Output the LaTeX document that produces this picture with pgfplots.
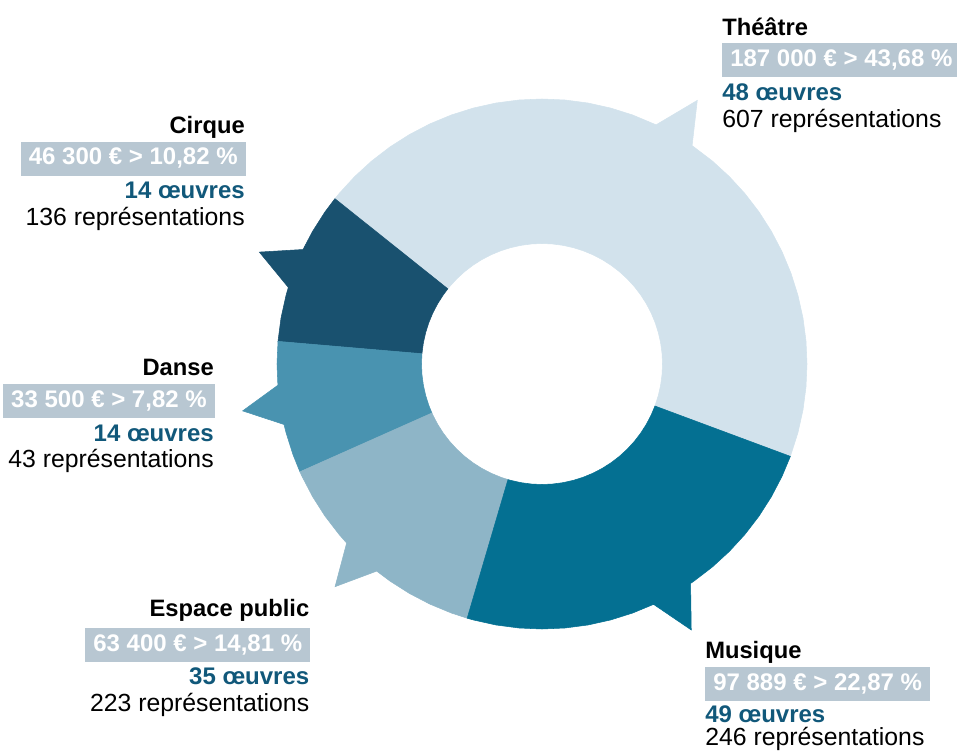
\documentclass[border=0pt]{standalone}
\usepackage{pgfplots}
\pgfplotsset{compat=1.18}
\usepackage{fontspec}
\setmainfont{Liberation Sans}

\definecolor{theatre}{HTML}{D2E2EC}
\definecolor{cirque}{HTML}{19516F}
\definecolor{danse}{HTML}{4993B0}
\definecolor{espace}{HTML}{8EB5C7}
\definecolor{musique}{HTML}{047092}
\definecolor{boxc}{HTML}{B8C7D2}
\definecolor{oeuc}{HTML}{11587A}

\tikzset{
  lbl/.style={inner sep=0pt, font=\fontsize{18.6}{20}\selectfont},
  ttl/.style={lbl, font=\fontsize{17.8}{20}\selectfont\bfseries},
  oeu/.style={lbl, text=oeuc, font=\fontsize{18}{20}\selectfont\bfseries},
  pct/.style={fill=boxc, text=white, font=\fontsize{18}{20}\selectfont\bfseries,
    inner xsep=6pt, inner ysep=0pt, text height=17.6pt, text depth=7.9pt},
}

\begin{document}
\begin{tikzpicture}
\begin{axis}[
    hide axis,
    scale only axis,
    width=717.75pt, height=563.25pt,
    xmin=-542, xmax=415, ymin=-387, ymax=364,
    clip=false,
    every axis plot/.append style={data cs=polar, line width=0.4pt},
  ]
% Théâtre
\addplot[fill=theatre, draw=theatre] coordinates {
  (-20.4,265) (-15,265) (-10,265) (-5,265) (0,265) (5,265) (10,265) (15,265)
  (20,265) (25,265) (30,265) (35,265) (40,265) (45,265) (50,265) (55.5,265)
  (59.5,306) (64.5,265) (70,265) (75,265) (80,265) (85,265) (90,265) (95,265)
  (100,265) (105,265) (110,265) (115,265) (120,265) (125,265) (130,265)
  (135,265) (140,265) (141.4,265)
  (141.4,120.5) (140,120.5) (135,120.5) (130,120.5) (125,120.5) (120,120.5)
  (115,120.5) (110,120.5) (105,120.5) (100,120.5) (95,120.5) (90,120.5)
  (85,120.5) (80,120.5) (75,120.5) (70,120.5) (65,120.5) (60,120.5) (55,120.5)
  (50,120.5) (45,120.5) (40,120.5) (35,120.5) (30,120.5) (25,120.5) (20,120.5)
  (15,120.5) (10,120.5) (5,120.5) (0,120.5) (-5,120.5) (-10,120.5) (-15,120.5)
  (-20.4,120.5)
} --cycle;
% Cirque
\addplot[fill=cirque, draw=cirque] coordinates {
  (141.4,265) (145,265) (150,265) (154.4,265) (158.4,304) (163.2,265)
  (165,265) (170,265) (175.1,265)
  (175.1,120.5) (170,120.5) (165,120.5) (160,120.5) (155,120.5) (150,120.5)
  (145,120.5) (141.4,120.5)
} --cycle;
% Danse
\addplot[fill=danse, draw=danse] coordinates {
  (175.1,265) (180,265) (184.6,265) (188.9,303) (193.2,265) (195,265)
  (200,265) (204,265)
  (204,120.5) (200,120.5) (195,120.5) (190,120.5) (185,120.5) (180,120.5)
  (175.1,120.5)
} --cycle;
% Espace public
\addplot[fill=espace, draw=espace] coordinates {
  (204,265) (205,265) (210,265) (215,265) (220,265) (222.5,265) (227.1,304)
  (231.4,265) (235,265) (240,265) (245,265) (250,265) (253.6,265)
  (253.6,120.5) (250,120.5) (245,120.5) (240,120.5) (235,120.5) (230,120.5)
  (225,120.5) (220,120.5) (215,120.5) (210,120.5) (205,120.5) (204,120.5)
} --cycle;
% Musique
\addplot[fill=musique, draw=musique] coordinates {
  (253.6,265) (255,265) (260,265) (265,265) (270,265) (275,265) (280,265)
  (285,265) (290,265) (294.9,265) (299.3,305) (304.1,265) (305,265) (310,265)
  (315,265) (320,265) (325,265) (330,265) (335,265) (339.6,265)
  (339.6,120.5) (335,120.5) (330,120.5) (325,120.5) (320,120.5) (315,120.5)
  (310,120.5) (305,120.5) (300,120.5) (295,120.5) (290,120.5) (285,120.5)
  (280,120.5) (275,120.5) (270,120.5) (265,120.5) (260,120.5) (255,120.5)
  (253.6,120.5)
} --cycle;

% Théâtre
\node[ttl, anchor=base west] at (axis cs:180,328) {Théâtre};
\node[pct, anchor=base west] at (axis cs:180,297.3) {187 000 € > 43,68 \%};
\node[oeu, anchor=base west] at (axis cs:180,263) {48 œuvres};
\node[lbl, anchor=base west] at (axis cs:180,236) {607 représentations};
% Cirque
\node[ttl, anchor=base east] at (axis cs:-297,230.7) {Cirque};
\node[pct, anchor=base east] at (axis cs:-296,199) {46 300 € > 10,82 \%};
\node[oeu, anchor=base east] at (axis cs:-297,165.7) {14 œuvres};
\node[lbl, anchor=base east] at (axis cs:-297,138) {136 représentations};
% Danse
\node[ttl, anchor=base east] at (axis cs:-328,-11) {Danse};
\node[pct, anchor=base east] at (axis cs:-327,-43) {33 500 € > 7,82 \%};
\node[oeu, anchor=base east] at (axis cs:-328,-77) {14 œuvres};
\node[lbl, anchor=base east] at (axis cs:-328,-103.3) {43 représentations};
% Espace public
\node[ttl, anchor=base east] at (axis cs:-232.5,-252.7) {Espace public};
\node[pct, anchor=base east] at (axis cs:-231.5,-287.7) {63 400 € > 14,81 \%};
\node[oeu, anchor=base east] at (axis cs:-232.5,-320) {35 œuvres};
\node[lbl, anchor=base east] at (axis cs:-232.5,-347.7) {223 représentations};
% Musique
\node[ttl, anchor=base west] at (axis cs:163,-294.3) {Musique};
\node[pct, anchor=base west] at (axis cs:163,-326) {97 889 € > 22,87 \%};
\node[oeu, anchor=base west] at (axis cs:163,-358.7) {49 œuvres};
\node[lbl, anchor=base west] at (axis cs:163,-381.5) {246 représentations};
\end{axis}
\pgfresetboundingbox
\path[use as bounding box] (current axis.south west) rectangle (current axis.north east);
\end{tikzpicture}
\end{document}
